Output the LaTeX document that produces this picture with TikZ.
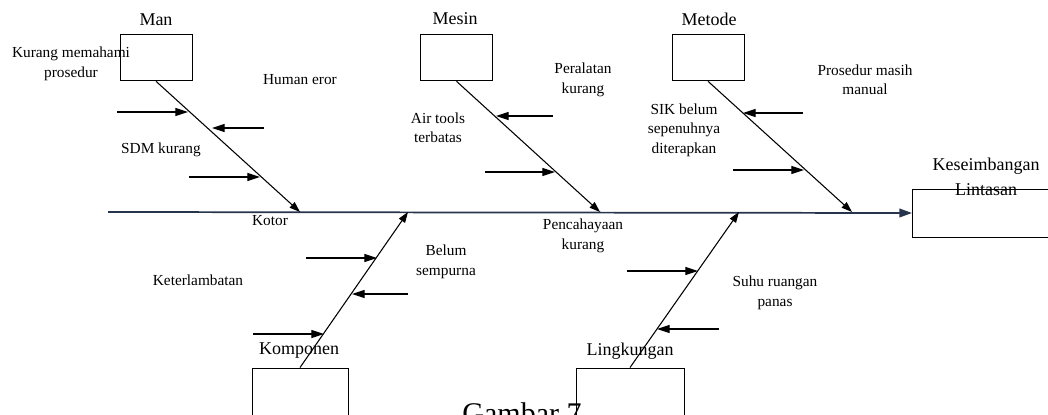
\documentclass[tikz,border=0pt]{standalone}
\usepackage{fontspec}
\setmainfont{Liberation Serif}
\usetikzlibrary{arrows.meta}
\definecolor{spinecol}{RGB}{38,52,77}

\begin{document}
\begin{tikzpicture}[x=0.75pt,y=-0.75pt,
  box/.style={draw,line width=0.7pt,inner sep=0pt,minimum width=54pt,minimum height=35pt},
  head/.style={font=\fontsize{13.5}{18.5}\selectfont,align=center,inner sep=0pt},
  lbl/.style={font=\fontsize{11.5}{14.6}\selectfont,align=center,inner sep=0pt},
  bone/.style={line width=0.8pt,-{Triangle[length=8pt,width=5.5pt]}},
  cause/.style={line width=0.8pt,-{Triangle[length=9.5pt,width=6pt]}}]
\useasboundingbox (0,0) rectangle (1048,414);

% boxes
\node[box] (man) at (156,57.5) {};
\node[box] (mesin) at (456.5,57.5) {};
\node[box] (metode) at (708,57.5) {};
\node[box,minimum width=72pt,minimum height=45pt] (komp) at (300,398) {};
\node[box,minimum width=81pt,minimum height=45pt] (ling) at (630,398) {};
\node[box,minimum width=112pt,minimum height=36pt,anchor=west] (kes) at (912,213) {};

% headings
\node[head] (tman) at (156,20) {Man};
\node[head] (tmesin) at (455,19) {Mesin};
\node[head] (tmetode) at (709,19) {Metode};
\node[head] (tkomp) at (299,351) {Komponen};
\node[head] (tling) at (630,351) {Lingkungan};
\node[head] (tkes) at (986,177) {Keseimbangan\\Lintasan};

% spine
\coordinate (s0) at (108,212);
\draw[spinecol,line width=1.3pt,-{Triangle[length=9.5pt,width=6.5pt]}] (s0) -- (kes.west);

% bones
\coordinate (bman) at (300,212);
\coordinate (bmesin) at (600,212);
\coordinate (bmetode) at (852,212);
\coordinate (bkomp) at (408,212);
\coordinate (bling) at (739,212);
\draw[bone] (man.south) -- (bman);
\draw[bone] (mesin.south) -- (bmesin);
\draw[bone] (metode.south) -- (bmetode);
\draw[bone] (komp.north) -- (bkomp);
\draw[bone] (ling.north) -- (bling);

% causes
\coordinate (a1) at (117,112); \coordinate (a1e) at (188,112);
\coordinate (a2) at (264,128); \coordinate (a2e) at (212,128);
\coordinate (a3) at (189,177); \coordinate (a3e) at (260,177);
\coordinate (b1) at (553,116); \coordinate (b1e) at (496,116);
\coordinate (b2) at (485,172); \coordinate (b2e) at (555,172);
\coordinate (c1) at (803,113); \coordinate (c1e) at (743,113);
\coordinate (c2) at (733,170); \coordinate (c2e) at (804,170);
\coordinate (d1) at (306,258); \coordinate (d1e) at (377,258);
\coordinate (d2) at (408,294); \coordinate (d2e) at (352,294);
\coordinate (d3) at (253,334); \coordinate (d3e) at (324,334);
\coordinate (e1) at (627,271); \coordinate (e1e) at (698,271);
\coordinate (e2) at (719,329); \coordinate (e2e) at (657,329);
\foreach \p in {a1,a2,a3,b1,b2,c1,c2,d1,d2,d3,e1,e2}
  \draw[cause] (\p) -- (\p e);

% labels
\node[lbl] (l1) at (71,64) {Kurang memahami\\prosedur};
\node[lbl] (l2) at (300,80) {Human eror};
\node[lbl] (l3) at (161,150) {SDM kurang};
\node[lbl] (l4) at (270,221) {Kotor};
\node[lbl] (l5) at (583,80) {Peralatan\\kurang};
\node[lbl] (l6) at (438,128) {Air tools\\terbatas};
\node[lbl] (l7) at (583,236) {Pencahayaan\\kurang};
\node[lbl] (l8) at (865,80) {Prosedur masih\\manual};
\node[lbl] (l9) at (684,130) {SIK belum\\sepenuhnya\\diterapkan};
\node[lbl] (l10) at (198,280) {Keterlambatan};
\node[lbl] (l11) at (446,262) {Belum\\sempurna};
\node[lbl] (l12) at (775,293) {Suhu ruangan\\panas};

\node[font=\fontsize{22.5}{26}\selectfont,anchor=base,inner sep=0pt] (cap) at (522,423) {Gambar 7};
\end{tikzpicture}
\end{document}
